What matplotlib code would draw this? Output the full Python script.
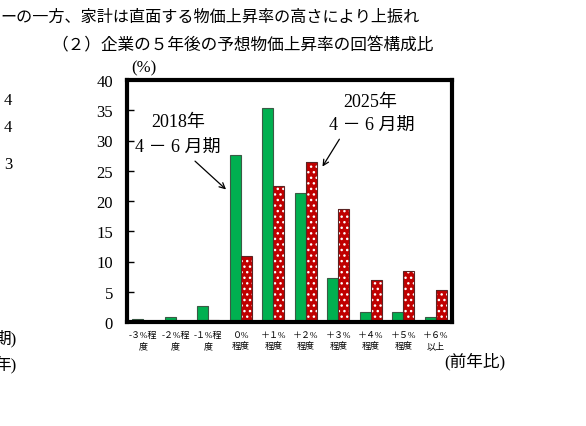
"""Recreate: 企業の5年後の予想物価上昇率の回答構成比 (2018 vs 2025, 4-6月期)."""

import matplotlib
matplotlib.use("Agg")
import matplotlib.pyplot as plt
import numpy as np

W, H = 586, 427

categories = ["-３%程\n度", "-２%程\n度", "-１%程\n度", "０%\n程度", "＋１%\n程度",
              "＋２%\n程度", "＋３%\n程度", "＋４%\n程度", "＋５%\n程度", "＋６%\n以上"]
share_2018 = [0.55, 0.8, 2.6, 27.6, 35.4, 21.4, 7.25, 1.65, 1.65, 0.8]
share_2025 = [0.1, 0.1, 0.3, 10.9, 22.4, 26.5, 18.6, 6.9, 8.5, 5.3]
yticks = [0, 5, 10, 15, 20, 25, 30, 35, 40]

SERIF = ["Liberation Serif", "Noto Sans CJK JP"]
GOTHIC = ["Noto Sans CJK JP", "DejaVu Sans"]

plt.rcParams["hatch.linewidth"] = 1.0


def px(x, y):
    return x / W, 1 - y / H


fig = plt.figure(figsize=(W / 100, H / 100), dpi=100)
ax = fig.add_axes([127 / W, 1 - 323 / H, 325 / W, 242 / H])

x = np.arange(len(categories))
bw = 0.34
ax.bar(x - bw / 2, share_2018, width=bw, color="#00b050", edgecolor="#3a5a45", linewidth=0.8)
# red bars: white dot hatch drawn first, then dark outline on top
ax.bar(x + bw / 2, share_2025, width=bw, color="#c00000", edgecolor="white",
       linewidth=0, hatch="...")
ax.bar(x + bw / 2, share_2025, width=bw, fill=False, edgecolor="#5a2525", linewidth=0.8)

ax.set_xlim(-0.5, len(categories) - 0.5)
ax.set_ylim(0, 40)
ax.set_yticks(yticks)
ax.set_yticklabels([str(v) for v in yticks], family=SERIF, fontsize=12)
ax.tick_params(axis="y", direction="in", length=5, width=1, pad=10)
ax.set_xticks([])
for s in ax.spines.values():
    s.set_linewidth(3)

# category labels under the axis
for i, lab in enumerate(categories):
    l1, l2 = lab.split("\n")
    xc = 127 + 32.5 * (i + 0.5)
    fig.text(*px(xc, 336), l1, ha="center", va="center", family=SERIF, fontsize=6.5)
    fig.text(*px(xc, 347), l2, ha="center", va="center", family=SERIF, fontsize=6.5)

# annotations
ax.text(1.07, 33.2, "2018年", ha="center", va="center", family=SERIF, fontsize=13)
ax.text(1.07, 29.1, "4 － 6 月期", ha="center", va="center", family=SERIF, fontsize=13)
ax.annotate("", xy=(2.61, 21.6), xytext=(1.53, 26.9),
            arrowprops=dict(arrowstyle="->", color="black", lw=0.9))
ax.text(6.98, 36.5, "2025年", ha="center", va="center", family=SERIF, fontsize=13)
ax.text(7.04, 32.7, "4 － 6 月期", ha="center", va="center", family=SERIF, fontsize=13)
ax.annotate("", xy=(5.47, 25.3), xytext=(6.08, 30.6),
            arrowprops=dict(arrowstyle="->", color="black", lw=0.9))

# headings and surrounding page text
fig.text(*px(0, 17), "ーの一方、家計は直面する物価上昇率の高さにより上振れ",
         ha="left", va="center", family=GOTHIC, fontsize=11.6)
fig.text(*px(243, 46), "（２）企業の５年後の予想物価上昇率の回答構成比",
         ha="center", va="center", family=GOTHIC, fontsize=12)
fig.text(*px(144, 68), "(%)", ha="center", va="center", family=SERIF, fontsize=12)
fig.text(*px(505, 362), "(前年比)", ha="right", va="center", family=SERIF, fontsize=12)

# fragments of the neighbouring panel on the left (cut off by the page crop)
for yy, t in [(101, "4"), (128, "4"), (165, "3")]:
    fig.text(*px(8, yy), t, ha="center", va="center", family=SERIF, fontsize=12)
fig.text(*px(17, 339), "期)", ha="right", va="center", family=SERIF, fontsize=12)
fig.text(*px(16, 365), "年)", ha="right", va="center", family=SERIF, fontsize=12)

fig.savefig("out.png", dpi=100)
